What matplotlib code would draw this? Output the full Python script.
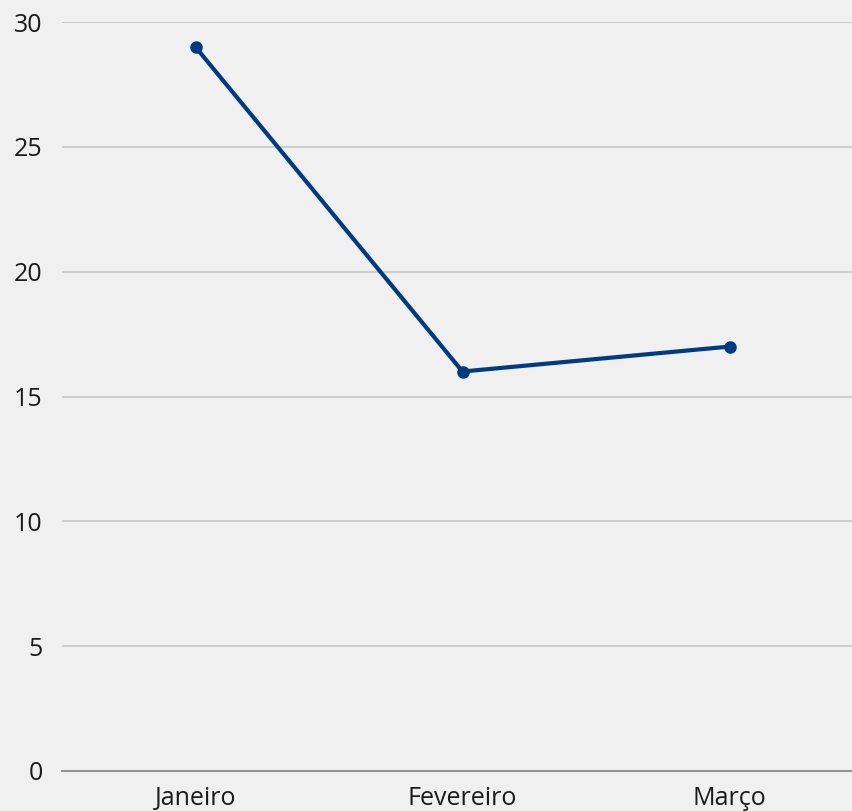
# line chart of monthly values (Janeiro - Março)

import numpy as np
import matplotlib.pyplot as plt

plt.rcParams['font.family'] = ['Open Sans', 'DejaVu Sans']

# data
months = ['Janeiro', 'Fevereiro', 'Março']
values = [29, 16, 17]
yticks = [0, 5, 10, 15, 20, 25, 30]

bgColor = '#f0f0f0'
lineColor = '#003a80'

fig = plt.figure(figsize=(8.53, 8.11), dpi=100, facecolor=bgColor)
# axes placed by pixel: left edge 62px, baseline at 771px, top gridline at 22px
ax = fig.add_axes([62/853, 40/811, 791/853, 749/811], facecolor=bgColor)

x = np.arange(len(months))
ax.plot(x, values, color=lineColor, linewidth=3, marker='o', markersize=8,
        solid_capstyle='round', zorder=3)

ax.set_xlim(-0.5, 2.5 - 10/267)
ax.set_ylim(0, 30)
ax.set_xticks(x)
ax.set_xticklabels(months)
ax.set_yticks(yticks)

# gridlines; baseline drawn darker
for y in yticks[1:]:
    ax.axhline(y, color='#c6c6c6', linewidth=1.2, zorder=1)
ax.axhline(0, color='#7f7f7f', linewidth=1.2, zorder=2, clip_on=False)

for s in ax.spines.values():
    s.set_visible(False)
ax.tick_params(axis='both', length=0, labelsize=18, colors='#1a1a1a')
ax.tick_params(axis='y', pad=14)
ax.tick_params(axis='x', pad=11)

fig.savefig('out.png', dpi=100, facecolor=bgColor)
